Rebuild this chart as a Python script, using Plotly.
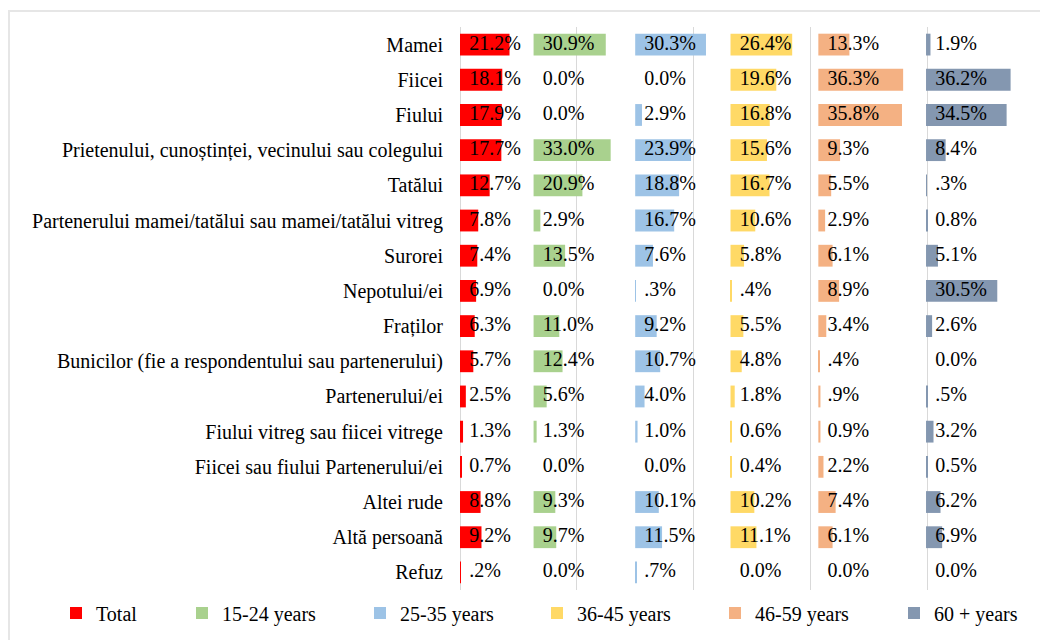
import plotly.graph_objects as go

categories = [
    "Mamei", "Fiicei", "Fiului",
    "Prietenului, cunoștinței, vecinului sau colegului",
    "Tatălui",
    "Partenerului mamei/tatălui sau mamei/tatălui vitreg",
    "Surorei", "Nepotului/ei", "Fraților",
    "Bunicilor (fie a respondentului sau partenerului)",
    "Partenerului/ei", "Fiului vitreg sau fiicei vitrege",
    "Fiicei sau fiului Partenerului/ei", "Altei rude", "Altă persoană", "Refuz",
]

series_names = ["Total", "15-24 years", "25-35 years", "36-45 years", "46-59 years", "60 + years"]

total = [21.2, 18.1, 17.9, 17.7, 12.7, 7.8, 7.4, 6.9, 6.3, 5.7, 2.5, 1.3, 0.7, 8.8, 9.2, 0.2]
age_15_24 = [30.9, 0.0, 0.0, 33.0, 20.9, 2.9, 13.5, 0.0, 11.0, 12.4, 5.6, 1.3, 0.0, 9.3, 9.7, 0.0]
age_25_35 = [30.3, 0.0, 2.9, 23.9, 18.8, 16.7, 7.6, 0.3, 9.2, 10.7, 4.0, 1.0, 0.0, 10.1, 11.5, 0.7]
age_36_45 = [26.4, 19.6, 16.8, 15.6, 16.7, 10.6, 5.8, 0.4, 5.5, 4.8, 1.8, 0.6, 0.4, 10.2, 11.1, 0.0]
age_46_59 = [13.3, 36.3, 35.8, 9.3, 5.5, 2.9, 6.1, 8.9, 3.4, 0.4, 0.9, 0.9, 2.2, 7.4, 6.1, 0.0]
age_60_plus = [1.9, 36.2, 34.5, 8.4, 0.3, 0.8, 5.1, 30.5, 2.6, 0.0, 0.5, 3.2, 0.5, 6.2, 6.9, 0.0]

labels_total = ["21.2%", "18.1%", "17.9%", "17.7%", "12.7%", "7.8%", "7.4%", "6.9%", "6.3%", "5.7%", "2.5%", "1.3%", "0.7%", "8.8%", "9.2%", ".2%"]
labels_15_24 = ["30.9%", "0.0%", "0.0%", "33.0%", "20.9%", "2.9%", "13.5%", "0.0%", "11.0%", "12.4%", "5.6%", "1.3%", "0.0%", "9.3%", "9.7%", "0.0%"]
labels_25_35 = ["30.3%", "0.0%", "2.9%", "23.9%", "18.8%", "16.7%", "7.6%", ".3%", "9.2%", "10.7%", "4.0%", "1.0%", "0.0%", "10.1%", "11.5%", ".7%"]
labels_36_45 = ["26.4%", "19.6%", "16.8%", "15.6%", "16.7%", "10.6%", "5.8%", ".4%", "5.5%", "4.8%", "1.8%", "0.6%", "0.4%", "10.2%", "11.1%", "0.0%"]
labels_46_59 = ["13.3%", "36.3%", "35.8%", "9.3%", "5.5%", "2.9%", "6.1%", "8.9%", "3.4%", ".4%", ".9%", "0.9%", "2.2%", "7.4%", "6.1%", "0.0%"]
labels_60_plus = ["1.9%", "36.2%", "34.5%", "8.4%", ".3%", "0.8%", "5.1%", "30.5%", "2.6%", "0.0%", ".5%", "3.2%", "0.5%", "6.2%", "6.9%", "0.0%"]

colors = ["#FF0000", "#A9D18E", "#9DC3E6", "#FFD966", "#F4B183", "#8497B0"]

# layout: where each panel starts along the shared value axis
panel_base = [0, 31.5, 75.0, 115.8, 153.4, 199.5]
# layout: legend entry widths (px)
legend_widths = [81, 133, 132, 133, 134, 133]

values = [total, age_15_24, age_25_35, age_36_45, age_46_59, age_60_plus]
labels = [labels_total, labels_15_24, labels_25_35, labels_36_45, labels_46_59, labels_60_plus]

FONT = "Liberation Serif, Times New Roman, serif"

fig = go.Figure()
for name, vals, col, b, lw in zip(series_names, values, colors, panel_base, legend_widths):
    fig.add_trace(go.Bar(
        y=categories, x=vals, base=[b] * len(vals), orientation="h",
        name=name, marker=dict(color=col, line=dict(width=0)),
        hoverinfo="skip", legendwidth=lw,
    ))
for name, labs, b in zip(series_names, labels, panel_base):
    fig.add_trace(go.Scatter(
        y=categories, x=[b] * len(labs), mode="markers+text", text=labs,
        textposition="middle right",
        marker=dict(size=13, color="rgba(0,0,0,0)"),
        textfont=dict(family=FONT, size=20, color="#000000"),
        showlegend=False, hoverinfo="skip", cliponaxis=False,
    ))

# figure pixel geometry (page body adds an 8px offset)
W, H = 1040, 632
L, T, R, B = 452, 19, 1036, 582
def px_to_paper_x(px):
    return (px - L) / (R - L)
def px_to_paper_y(py):
    return (B - py) / (B - T)

n = len(categories)
fig.update_layout(
    width=W, height=H,
    margin=dict(l=L, r=W - R, t=T, b=H - B, autoexpand=False),
    paper_bgcolor="white", plot_bgcolor="white",
    barmode="overlay", bargap=0.38,
    font=dict(family=FONT, size=20, color="#000000"),
    xaxis=dict(range=[0, 250], dtick=50, showgrid=True, gridcolor="#D9D9D9", gridwidth=1,
               zeroline=True, zerolinecolor="#D9D9D9", zerolinewidth=1,
               showticklabels=False, showline=False, fixedrange=True),
    yaxis=dict(categoryorder="array", categoryarray=categories, range=[n - 0.5, -0.5],
               showgrid=False, zeroline=False, showline=False, ticks="",
               ticklabelstandoff=16, tickfont=dict(family=FONT, size=20, color="#000000")),
    legend=dict(orientation="h", xref="paper", yref="paper",
                x=px_to_paper_x(48), xanchor="left",
                y=px_to_paper_y(605), yanchor="middle",
                font=dict(family=FONT, size=20, color="#000000"), bgcolor="rgba(0,0,0,0)"),
    showlegend=True,
    shapes=[dict(type="rect", xref="paper", yref="paper",
                 x0=px_to_paper_x(1), x1=px_to_paper_x(1070),
                 y0=px_to_paper_y(670), y1=px_to_paper_y(3),
                 line=dict(color="#E6E6E6", width=2), fillcolor="rgba(0,0,0,0)", layer="below")],
)

fig.write_html("out.html")
